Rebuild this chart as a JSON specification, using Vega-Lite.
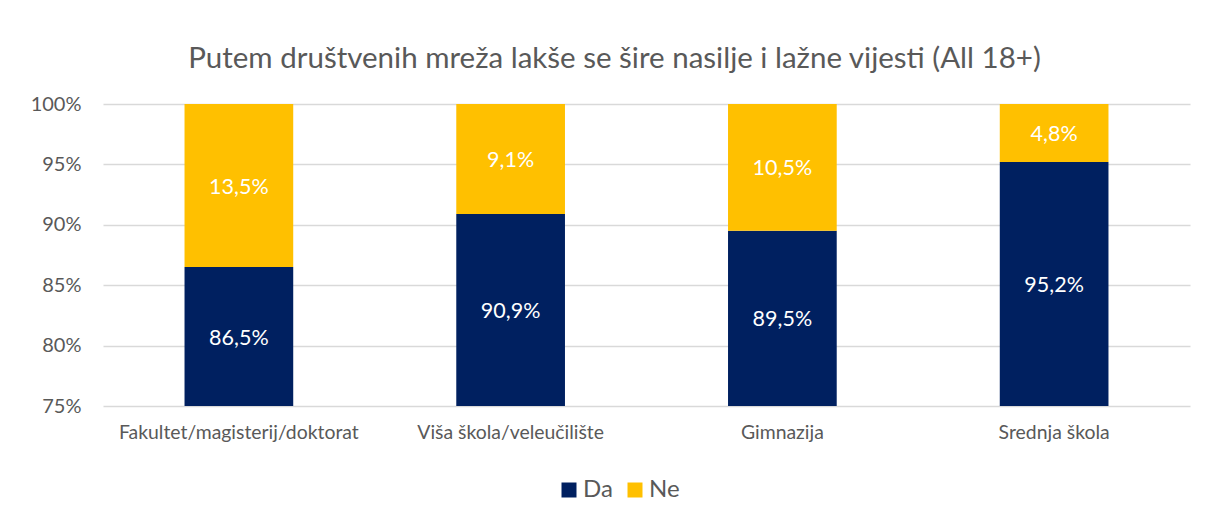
{
  "$schema": "https://vega.github.io/schema/vega-lite/v6.json",
  "width": 1087,
  "height": 302,
  "autosize": {"type": "none"},
  "padding": {"left": 103, "top": 104, "right": 18, "bottom": 115},
  "background": "white",
  "config": {
    "view": {"stroke": null},
    "font": "Lato",
    "locale": {"number": {"decimal": ",", "thousands": ".", "grouping": [3], "currency": ["", " €"]}}
  },
  "title": {
    "text": "Putem društvenih mreža lakše se šire nasilje i lažne vijesti (All 18+)",
    "font": "Lato",
    "fontSize": 29.5,
    "fontWeight": "normal",
    "color": "#595959",
    "anchor": "middle",
    "frame": "group",
    "dx": -32,
    "offset": 20
  },
  "data": {
    "values": [
      {"kategorija": "Fakultet/magisterij/doktorat", "odgovor": "Da", "udio": 0.865},
      {"kategorija": "Fakultet/magisterij/doktorat", "odgovor": "Ne", "udio": 0.135},
      {"kategorija": "Viša škola/veleučilište", "odgovor": "Da", "udio": 0.909},
      {"kategorija": "Viša škola/veleučilište", "odgovor": "Ne", "udio": 0.091},
      {"kategorija": "Gimnazija", "odgovor": "Da", "udio": 0.895},
      {"kategorija": "Gimnazija", "odgovor": "Ne", "udio": 0.105},
      {"kategorija": "Srednja škola", "odgovor": "Da", "udio": 0.952},
      {"kategorija": "Srednja škola", "odgovor": "Ne", "udio": 0.048}
    ]
  },
  "transform": [
    {"stack": "udio", "groupby": ["kategorija"], "sort": [{"field": "odgovor", "order": "ascending"}], "as": ["y0", "y1"]},
    {"calculate": "(max(datum.y0, 0.75) + datum.y1) / 2", "as": "sredina"}
  ],
  "encoding": {
    "x": {
      "field": "kategorija",
      "type": "nominal",
      "sort": null,
      "scale": {"paddingInner": 0.6, "paddingOuter": 0.3},
      "axis": {
        "title": null,
        "labelAngle": 0,
        "labelFontSize": 19.4,
        "labelLimit": 500,
        "labelColor": "#595959",
        "labelPadding": 17,
        "ticks": false,
        "domain": false
      }
    }
  },
  "layer": [
    {
      "mark": {"type": "bar", "clip": true},
      "encoding": {
        "y": {
          "field": "y0",
          "type": "quantitative",
          "scale": {"domain": [0.75, 1], "nice": false, "zero": false},
          "axis": {
            "title": null,
            "format": ".0%",
            "values": [0.75, 0.8, 0.85, 0.9, 0.95, 1],
            "labelFontSize": 20,
            "labelColor": "#595959",
            "labelPadding": 22,
            "ticks": false,
            "domain": false,
            "gridColor": "#d9d9d9",
            "gridWidth": 1.5
          }
        },
        "y2": {"field": "y1"},
        "color": {
          "field": "odgovor",
          "type": "nominal",
          "scale": {"domain": ["Da", "Ne"], "range": ["#002060", "#FFC000"]},
          "legend": {
            "title": null,
            "orient": "none",
            "direction": "horizontal",
            "legendX": 454,
            "legendY": 374,
            "symbolType": "square",
            "symbolSize": 225,
            "symbolStrokeWidth": 0,
            "symbolOpacity": 1,
            "labelFontSize": 24,
            "labelColor": "#595959",
            "labelOffset": 2,
            "columnPadding": 10
          }
        }
      }
    },
    {
      "mark": {"type": "text", "color": "white", "fontSize": 21.5, "baseline": "middle", "dy": 2},
      "encoding": {
        "y": {"field": "sredina", "type": "quantitative", "scale": {"domain": [0.75, 1], "nice": false, "zero": false}},
        "text": {"field": "udio", "type": "quantitative", "format": ".1%"}
      }
    }
  ]
}
